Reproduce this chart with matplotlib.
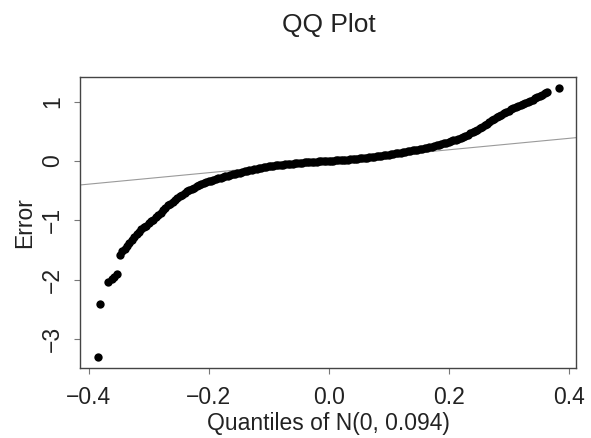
import matplotlib
matplotlib.use("Agg")
import matplotlib.pyplot as plt

# theoretical quantiles (x) and sample errors (y)
tail_x = [-0.385, -0.3805, -0.368, -0.361, -0.357, -0.353]
tail_y = [-3.31, -2.41, -2.05, -1.99, -1.95, -1.90]

band_x = [
    -0.348, -0.344, -0.340, -0.336, -0.332, -0.328, -0.324, -0.320, -0.316, -0.312,
    -0.308, -0.304, -0.300, -0.296, -0.292, -0.288, -0.284, -0.280, -0.276, -0.272,
    -0.268, -0.264, -0.260, -0.256, -0.252, -0.248, -0.244, -0.240, -0.236, -0.232,
    -0.228, -0.224, -0.220, -0.216, -0.212, -0.208, -0.204, -0.200, -0.196, -0.192,
    -0.188, -0.184, -0.180, -0.176, -0.172, -0.168, -0.164, -0.160, -0.156, -0.152,
    -0.148, -0.144, -0.140, -0.136, -0.132, -0.128, -0.124, -0.120, -0.116, -0.112,
    -0.108, -0.104, -0.100, -0.096, -0.092, -0.088, -0.084, -0.080, -0.076, -0.072,
    -0.068, -0.064, -0.060, -0.056, -0.052, -0.048, -0.044, -0.040, -0.036, -0.032,
    -0.028, -0.024, -0.020, -0.016, -0.012, -0.008, -0.004, 0.000, 0.004, 0.008,
    0.012, 0.016, 0.020, 0.024, 0.028, 0.032, 0.036, 0.040, 0.044, 0.048,
    0.052, 0.056, 0.060, 0.064, 0.068, 0.072, 0.076, 0.080, 0.084, 0.088,
    0.092, 0.096, 0.100, 0.104, 0.108, 0.112, 0.116, 0.120, 0.124, 0.128,
    0.132, 0.136, 0.140, 0.144, 0.148, 0.152, 0.156, 0.160, 0.164, 0.168,
    0.172, 0.176, 0.180, 0.184, 0.188, 0.192, 0.196, 0.200, 0.204, 0.208,
    0.212, 0.216, 0.220, 0.224, 0.228, 0.232, 0.236, 0.240, 0.244, 0.248,
    0.252, 0.256, 0.260, 0.264, 0.268, 0.272, 0.276, 0.280, 0.284, 0.288,
    0.292, 0.296, 0.300, 0.304, 0.308, 0.312, 0.316, 0.320, 0.324, 0.328,
    0.332, 0.336, 0.340, 0.344, 0.348, 0.352, 0.356, 0.360, 0.364, 0.384,
]
band_y = [
    -1.58, -1.52, -1.48, -1.44, -1.38, -1.34, -1.29, -1.23, -1.19, -1.15,
    -1.12, -1.09, -1.05, -1.02, -0.99, -0.95, -0.91, -0.87, -0.83, -0.79,
    -0.75, -0.72, -0.69, -0.66, -0.62, -0.59, -0.57, -0.54, -0.51, -0.49,
    -0.47, -0.45, -0.43, -0.41, -0.39, -0.375, -0.36, -0.345, -0.33, -0.32,
    -0.305, -0.29, -0.28, -0.27, -0.26, -0.25, -0.24, -0.225, -0.215, -0.205,
    -0.195, -0.185, -0.175, -0.165, -0.155, -0.145, -0.135, -0.128, -0.12, -0.112,
    -0.105, -0.098, -0.092, -0.086, -0.08, -0.075, -0.07, -0.065, -0.06, -0.055,
    -0.05, -0.046, -0.042, -0.038, -0.034, -0.030, -0.027, -0.024, -0.021, -0.018,
    -0.015, -0.012, -0.010, -0.008, -0.006, -0.004, -0.002, 0.000, 0.003, 0.006,
    0.009, 0.012, 0.015, 0.018, 0.021, 0.024, 0.027, 0.031, 0.035, 0.039,
    0.043, 0.047, 0.051, 0.056, 0.061, 0.066, 0.071, 0.077, 0.083, 0.089,
    0.095, 0.101, 0.108, 0.115, 0.122, 0.129, 0.136, 0.143, 0.150, 0.157,
    0.164, 0.171, 0.178, 0.186, 0.194, 0.202, 0.210, 0.218, 0.227, 0.236,
    0.245, 0.255, 0.265, 0.275, 0.286, 0.297, 0.309, 0.321, 0.334, 0.347,
    0.361, 0.376, 0.392, 0.409, 0.427, 0.446, 0.466, 0.487, 0.509, 0.532,
    0.556, 0.581, 0.606, 0.632, 0.658, 0.684, 0.710, 0.735, 0.760, 0.784,
    0.807, 0.830, 0.852, 0.873, 0.893, 0.912, 0.930, 0.948, 0.966, 0.984,
    1.002, 1.020, 1.038, 1.056, 1.075, 1.095, 1.115, 1.140, 1.165, 1.227,
]

# reference line (qqline)
line_intercept = -0.004
line_slope = 0.966

x_ticks = [-0.4, -0.2, 0.0, 0.2, 0.4]
x_labels = ["\u22120.4", "\u22120.2", "0.0", "0.2", "0.4"]
y_ticks = [-3, -2, -1, 0, 1]
y_labels = ["\u22123", "\u22122", "\u22121", "0", "1"]

plt.rcParams["font.family"] = ["Liberation Sans", "DejaVu Sans"]
text_color = "#222222"
fs = 16.5

fig = plt.figure(figsize=(5.91, 4.38), dpi=100)
ax = fig.add_axes([0.1354, 0.1591, 0.8392, 0.6644])

ax.axline((0, line_intercept), slope=line_slope, color="#9a9a9a", lw=0.8, zorder=1)
ax.plot(tail_x + band_x, tail_y + band_y, "o", color="black", ms=6.0,
        mec="black", mew=0, zorder=2)

ax.set_xlim(-0.4144, 0.4122)
ax.set_ylim(-3.499, 1.413)

ax.set_xticks(x_ticks)
ax.set_xticklabels(x_labels)
ax.set_yticks(y_ticks)
ax.set_yticklabels(y_labels, rotation=90, va="center")

for side in ["top", "right", "bottom", "left"]:
    ax.spines[side].set_color("#444444")
    ax.spines[side].set_linewidth(1.0)

ax.tick_params(axis="both", length=4, width=0.8, color="#777777",
               labelsize=fs, labelcolor=text_color)
ax.tick_params(axis="x", pad=9)
ax.tick_params(axis="y", pad=7.5)

ax.set_xlabel("Quantiles of N(0, 0.094)", fontsize=fs, color=text_color, va="center")
ax.xaxis.set_label_coords(0.5, -0.191)
ax.set_ylabel("Error", fontsize=fs, color=text_color, va="center")
ax.yaxis.set_label_coords(-0.111, 0.5)
fig.text(0.5567, 0.943, "QQ Plot", ha="center", va="center", fontsize=19, color=text_color)

fig.savefig("out.png", dpi=100)
